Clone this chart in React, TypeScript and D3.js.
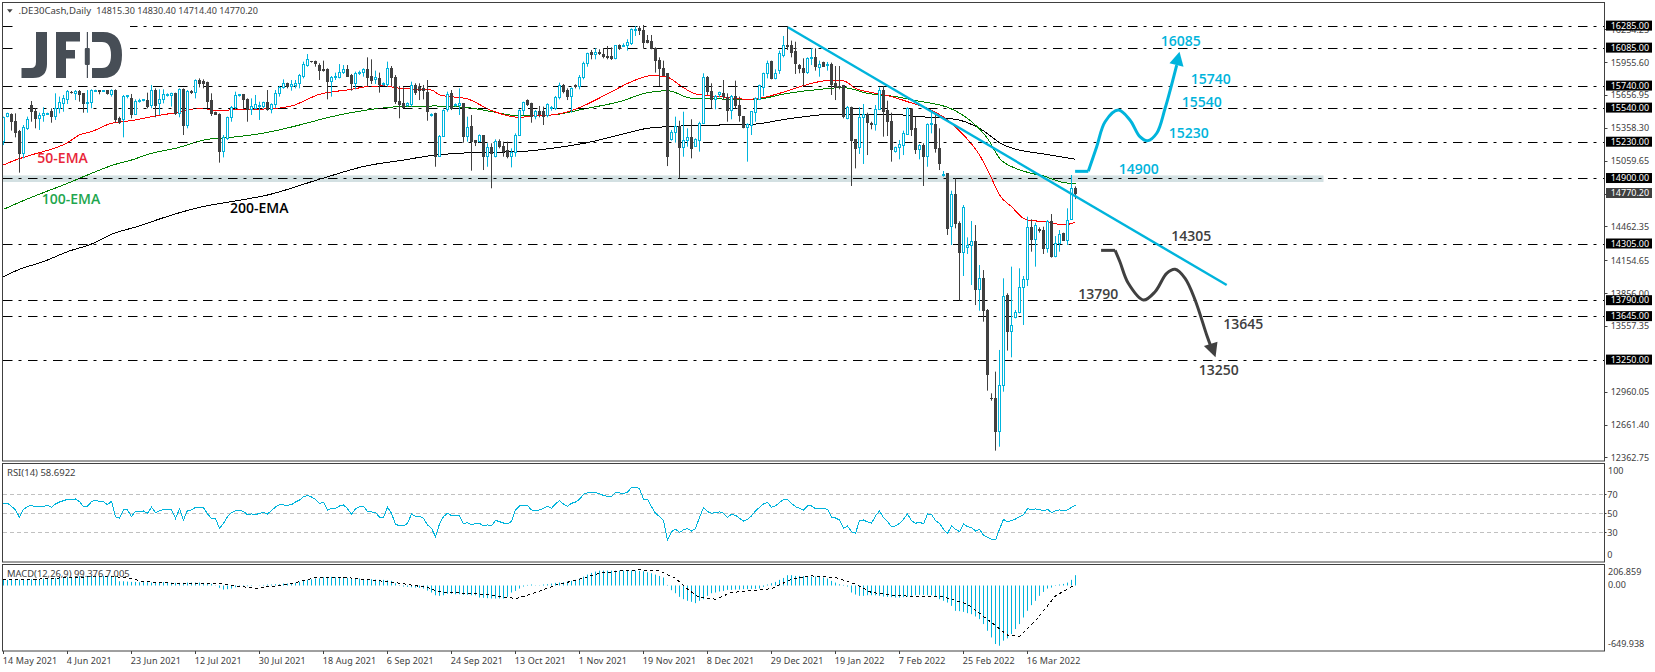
import * as d3 from "d3";

const opens = [
  15237,15464,15479,15418,15328,15125,15358,15567,15509,15443,
  15476,15491,15509,15464,15540,15585,15624,15685,15673,15697,
  15670,15582,15591,15700,15700,15700,15700,15661,15706,15449,
  15434,15646,15630,15485,15600,15609,15615,15561,15706,15579,
  15624,15661,15658,15676,15494,15715,15388,15697,15682,15788,
  15779,15773,15615,15500,15488,15146,15267,15458,15549,15655,
  15667,15624,15531,15540,15555,15555,15591,15531,15570,15670,
  15727,15767,15736,15743,15767,15833,15933,15967,15964,15933,
  15894,15894,15782,15821,15821,15864,15888,15839,15761,15852,
  15864,15894,15827,15806,15812,15752,15752,15903,15821,15600,
  15579,15561,15570,15743,15730,15721,15682,15470,15494,15106,
  15288,15530,15676,15564,15561,15579,15282,15373,15246,15237,
  15297,15100,15185,15100,15237,15197,15155,15100,15137,15297,
  15518,15615,15585,15464,15509,15509,15470,15534,15540,15640,
  15749,15700,15646,15749,15736,15821,15949,16045,16030,16051,
  16030,16015,16015,15994,16106,16106,16115,16130,16245,16263,
  16251,16160,16148,16085,15973,15906,15852,15252,15318,15379,
  15185,15246,15276,15197,15246,15403,15821,15691,15621,15661,
  15676,15636,15518,15646,15561,15464,15367,15388,15500,15621,
  15730,15852,15961,15812,15882,16024,16115,16106,16055,15930,
  15903,15864,15991,16003,15909,15958,15930,15942,15761,15736,
  15743,15446,15549,15252,15182,15458,15488,15403,15391,15531,
  15706,15518,15421,15146,15185,15206,15306,15531,15358,15161,
  15206,15106,15391,15397,15176,14928,14943,14464,14761,14495,
  14228,14277,14295,14331,13889,13995,13707,12907,12904,12602,
  13023,13843,13510,13640,13683,13913,13986,14458,14349,14440,
  14434,14270,14513,14192,14313,14398,14343,14525,14815.3,
];
const highs = [
  15464,15500,15494,15494,15343,15388,15464,15606,15540,15500,
  15549,15500,15540,15676,15646,15661,15706,15697,15706,15706,
  15676,15706,15712,15709,15700,15706,15706,15712,15712,15464,
  15661,15661,15670,15621,15627,15624,15682,15752,15721,15712,
  15712,15676,15682,15682,15721,15721,15706,15706,15803,15812,
  15803,15782,15676,15509,15494,15297,15464,15561,15691,15670,
  15670,15630,15630,15661,15600,15600,15706,15585,15706,15743,
  15803,15773,15797,15797,15852,15964,16033,15970,15973,15949,
  15973,15903,15833,15864,15942,15933,15933,15852,15873,15882,
  15903,16003,15985,15882,15864,15776,15964,15924,15842,15743,
  15730,15594,15782,15767,15767,15752,15797,15494,15500,15297,
  15530,15691,15706,15585,15721,15585,15464,15479,15252,15303,
  15297,15222,15222,15258,15258,15237,15237,15176,15312,15530,
  15600,15621,15591,15524,15561,15555,15585,15561,15652,15773,
  15761,15721,15730,15758,15842,15964,16045,16070,16085,16076,
  16085,16106,16094,16115,16121,16130,16167,16266,16288,16288,
  16297,16206,16206,16094,16003,15973,15858,15343,15464,15427,
  15509,15358,15440,15267,15418,15858,15833,15767,15661,15691,
  15797,15676,15661,15791,15646,15470,15403,15515,15640,15755,
  15864,15973,15973,15894,16064,16197,16288,16155,16145,15942,
  15994,16003,16085,16085,15973,15964,15961,15955,15924,15924,
  15752,15561,15555,15258,15549,15579,15500,15418,15570,15730,
  15743,15609,15500,15191,15252,15337,15549,15540,15464,15215,
  15222,15403,15524,15479,15358,14970,14943,14791,14903,14513,
  14661,14367,14516,14479,14116,14070,13716,12950,13147,13344,
  13995,13859,14101,13707,14086,14016,14555,14531,14500,14458,
  14464,14525,14579,14379,14434,14410,14631,14934,14830.4,
];
const lows = [
  15206,15458,15337,15276,14955,15085,15343,15418,15358,15343,
  15418,15488,15409,15434,15494,15509,15579,15673,15615,15600,
  15500,15500,15540,15697,15667,15694,15664,15646,15409,15397,
  15276,15630,15449,15479,15591,15603,15540,15540,15458,15479,
  15585,15646,15555,15479,15458,15297,15358,15670,15630,15730,
  15721,15540,15470,15479,15046,15094,15252,15418,15531,15646,
  15531,15418,15479,15531,15434,15540,15518,15494,15540,15646,
  15718,15721,15700,15721,15721,15812,15918,15955,15918,15797,
  15873,15621,15646,15797,15812,15852,15827,15700,15712,15842,
  15827,15743,15761,15761,15682,15743,15737,15743,15579,15449,
  15549,15555,15555,15661,15615,15621,15427,15464,15009,15100,
  15282,15509,15524,15555,15479,15228,15237,14973,15197,15231,
  14979,15009,14813,15094,15176,15100,15085,15003,15100,15288,
  15479,15561,15409,15440,15458,15388,15458,15518,15524,15621,
  15676,15615,15500,15721,15712,15803,15918,15985,15985,16024,
  15994,15985,15979,15985,16070,16100,16064,16115,16197,16206,
  16085,16130,16076,15864,15743,15833,15015,15246,15228,14903,
  15100,15191,15085,15191,15146,15397,15661,15540,15531,15640,
  15615,15418,15440,15540,15418,15358,15055,15297,15418,15615,
  15652,15812,15803,15803,15852,16003,16070,16003,15852,15858,
  15743,15852,15933,15882,15827,15918,15882,15661,15615,15712,
  15449,15440,14834,14994,15125,15034,15115,15349,15337,15524,
  15282,15288,15055,15137,15076,15115,15297,15288,15125,15076,
  14834,15009,15312,15137,14979,14919,14389,14298,14449,13792,
  14016,14216,13934,13752,13701,13601,12974,12883,12429,12465,
  12965,13338,13277,13631,13677,13571,13925,14237,14101,14410,
  14216,14228,14183,14186,14237,14343,14298,14525,14714.4,
];
const closes = [
  15458,15494,15418,15318,15125,15367,15434,15509,15443,15470,
  15494,15497,15464,15540,15597,15630,15697,15679,15697,15661,
  15585,15591,15700,15703,15697,15703,15670,15706,15434,15409,
  15646,15655,15479,15606,15615,15618,15555,15706,15561,15624,
  15667,15667,15673,15494,15715,15388,15691,15679,15788,15767,
  15767,15606,15494,15485,15146,15276,15458,15549,15658,15664,
  15621,15531,15555,15570,15567,15591,15531,15570,15676,15730,
  15767,15736,15758,15767,15842,15942,15985,15961,15949,15882,
  15882,15782,15821,15833,15864,15888,15833,15767,15852,15864,
  15888,15821,15797,15818,15752,15767,15903,15821,15600,15570,
  15549,15585,15743,15682,15706,15700,15509,15488,15106,15288,
  15524,15661,15540,15576,15579,15282,15367,15237,15228,15297,
  15100,15185,15125,15237,15197,15146,15100,15137,15297,15524,
  15591,15570,15464,15509,15488,15464,15570,15546,15640,15749,
  15691,15646,15721,15736,15821,15949,16039,16030,16051,16039,
  16009,16003,15994,16106,16085,16115,16136,16257,16260,16245,
  16136,16142,16082,15973,15903,15842,15106,15318,15379,15182,
  15246,15276,15176,15252,15403,15821,15691,15621,15646,15682,
  15646,15518,15646,15561,15470,15367,15397,15509,15630,15749,
  15858,15949,15812,15852,16039,16115,16100,16045,15949,15903,
  15864,15994,16003,15918,15942,15924,15942,15752,15730,15730,
  15464,15549,15246,15176,15458,15479,15415,15391,15531,15706,
  15509,15418,15161,15185,15215,15312,15540,15349,15167,15206,
  15106,15397,15403,15176,15040,14940,14452,14761,14489,14228,
  14640,14295,14331,13889,13995,13701,13119,12901,12602,13025,
  13834,13510,13562,13683,13913,13986,14458,14349,14476,14428,
  14270,14513,14192,14313,14392,14343,14519,14813,14770.2,
];

const ema50Bars = [0,3,7,16,19,22,27,32,38,43,49,54,59,66,72,79,87,91,95,99,107,109,116,122,129,133,137,142,146,152,158,162,166,169,173,179,186,189,194,200,206,210,213,218,222,226,231,236,240,244,247,249,252,255,257,261,264,266,268];
const ema50 = [15025,15070,15116,15228,15298,15328,15404,15428,15470,15500,15540,15519,15531,15534,15561,15667,15712,15737,15743,15722,15706,15661,15625,15519,15458,15473,15479,15519,15579,15691,15797,15837,15822,15752,15670,15646,15622,15631,15676,15746,15791,15788,15722,15676,15646,15600,15540,15434,15298,15116,14904,14752,14646,14540,14519,14510,14486,14486,14507];
const ema100Bars = [0,4,10,16,20,28,32,37,43,51,57,67,74,82,91,99,108,116,122,129,137,146,154,161,166,172,179,187,196,204,210,216,223,228,232,236,242,246,249,253,257,260,264,268];
const ema100 = [14622,14686,14774,14858,14919,15031,15070,15131,15176,15258,15276,15328,15388,15464,15525,15555,15561,15546,15510,15470,15479,15540,15600,15682,15700,15631,15625,15616,15676,15712,15728,15676,15646,15610,15585,15549,15419,15267,15086,14995,14949,14925,14874,14852];
const ema200Bars = [0,4,10,16,22,27,34,40,49,58,66,79,91,99,107,117,129,137,146,154,161,166,179,187,196,204,210,221,229,238,244,250,256,259,268];
const ema200 = [14010,14077,14147,14237,14307,14395,14471,14546,14640,14698,14752,14895,15019,15064,15110,15137,15146,15176,15228,15298,15358,15373,15388,15394,15443,15479,15488,15488,15464,15440,15358,15207,15146,15131,15076];

const rsi = [
  59.8,60.5,57.4,53.5,45.8,54.2,57,58.4,56.7,57.4,
  57.4,58.4,56.3,59.8,61.9,63.3,64.7,64,65.1,62.3,
  57,57.4,62.3,63.7,62.6,62.3,59.1,62.6,46.5,44.7,
  53.5,53.5,46.5,52.1,52.1,52.5,50,56.3,50.7,52.5,
  53.9,54.2,53.5,44.7,54.6,43,53.2,53.5,56.3,56.3,
  56,49.3,44.7,44.7,33.9,39.5,46.5,50.7,52.8,53.2,
  51.8,48.6,49.3,48.9,49.6,51.1,49.3,52.8,56.7,59.1,
  58.8,58.4,59.1,61.9,64,67.5,68.6,67.2,64.7,60.5,
  61.6,53.2,55.3,55.3,57.7,58.8,54.9,48.9,54.9,56.7,
  57.4,51.8,51.4,50.7,46.1,45.4,56.3,50,38.4,37,
  36.7,39.5,49.3,46.8,46.8,44.7,37.7,34.2,25.4,38.8,
  46.5,50,47.5,47.9,47.2,38.8,40.2,38.1,39.1,39.5,
  36.7,37.7,36.7,42.6,41.2,39.8,38.8,41.6,53.5,57.7,
  57.7,58.1,53.5,53.2,53.5,55.3,57.4,55.3,59.8,63.3,
  59.8,57.4,60.5,61.9,64.7,70,71.4,71.8,71.8,70.4,
  68.9,67.9,67.9,71.8,71.4,71,72.1,77.4,77.4,76,
  64.7,64.7,57,50,46.5,42.3,21.9,30.7,33.2,30,
  32.5,33.9,31.4,33.9,45.8,56,51.8,50,50.7,51.4,
  50,45.8,48.9,47.9,44.7,41.9,43.7,47.2,52.5,56.3,
  59.8,61.6,56.3,57.7,61.2,64.7,64.3,60.5,57,55.3,
  53.5,57.9,57.7,54.9,54.9,54.9,54.2,45.8,45.1,43,
  34.2,36.7,30.7,28.9,42.3,43,40.9,39.5,47.2,52.5,
  45.4,41.2,36,36.7,39.5,43.7,49.3,42.3,39.5,40.7,
  38.8,49.3,48.9,42.3,39.5,33.2,28.9,36.7,33.2,30.7,
  38.8,36,35,31.4,33.2,26.8,24.7,22.6,21.9,33.2,
  43.7,40.9,42.3,44,46.5,48.6,54.9,53.5,54.6,54.2,
  52.5,54.2,50.7,52.5,53.5,53.2,53.5,56.3,58.69,
];

const macdHist = [
  53,53,53,56,56,59,59,59,62,62,66,69,69,72,72,76,79,82,85,89,89,92,92,95,95,92,92,92,89,
  39,39,36,33,33,30,30,30,26,26,30,30,26,26,23,23,23,26,26,26,26,23,20,13,0,
  -26,-43,-39,-33,-20,-13,-10,-10,-7,-3,0,3,7,7,10,10,16,16,20,23,
  33,43,53,59,66,69,79,82,82,79,76,76,72,69,66,66,62,62,59,56,53,53,49,43,20,
  -7,-13,-16,-20,-23,-26,-33,-53,-72,-99,-105,-99,-85,-85,-89,-89,-95,-95,-99,-99,
  -122,-125,-128,-131,-131,-131,-131,-115,-72,-56,-33,-13,3,7,0,0,
  7,10,16,23,26,30,36,43,53,66,85,105,122,135,144,
  144,144,144,144,144,144,144,144,144,141,138,128,118,105,92,76,3,
  -49,-79,-115,-138,-154,-164,-177,-154,-138,-105,-79,-72,-62,-56,
  -46,-46,-43,-43,-39,-39,-36,-36,-33,-16,7,
  20,33,53,72,99,99,92,92,89,89,85,85,82,76,66,43,26,10,3,-13,
  -72,-92,-105,-105,-99,-99,-99,-105,-112,-115,-118,-122,-122,-118,-112,-105,-99,
  -95,-95,-99,-99,-115,-138,-154,-171,-204,-253,-256,-263,-276,-286,-309,
  -335,-384,-450,-516,-581,-598,-548,-525,-483,-433,-384,-319,-253,-197,-154,
  -105,-66,-33,-23,-7,7,13,26,53,99.376,
];
const signalBars = [0,8,16,27,32,35,42,54,58,63,68,73,78,85,94,99,106,109,120,128,129,133,138,144,149,155,159,164,168,171,174,178,182,189,192,197,202,208,213,217,224,235,241,247,251,254,258,263,268];
const signalValues = [53,59,76,89,66,36,20,16,-7,-30,-7,26,76,79,43,20,-23,-66,-89,-131,-122,-72,0,59,118,144,151,141,69,-39,-122,-138,-72,-46,-33,59,92,76,10,-72,-105,-115,-187,-368,-493,-506,-351,-105,7.005];

const dateBars = [0,16,32,48,64,80,96,112,128,144,160,176,192,208,224,240,256];
const dateLabels = ["14 May 2021","4 Jun 2021","23 Jun 2021","12 Jul 2021","30 Jul 2021","18 Aug 2021","6 Sep 2021","24 Sep 2021","13 Oct 2021","1 Nov 2021","19 Nov 2021","8 Dec 2021","29 Dec 2021","19 Jan 2022","7 Feb 2022","25 Feb 2022","16 Mar 2022"];

const priceTicks = [16254.25,15955.6,15656.95,15358.3,15059.65,14761,14462.35,14154.65,13856,13557.35,12960.05,12661.4,12362.75];
const levels = [16285,16085,15740,15540,15230,14900,14305,13790,13645,13250];
const rsiTicks = [100,70,50,30,0];
const rsiLevels = [70,50,30];
const macdTicks = [206.859,0,-649.938];
const lastClose = 14770.2;

const zoneBand = [14870,14930];
const zoneEndBar = 330;

const trendBars = [196.1,305.8];
const trendPrices = [16276,13934];

const upFlatBars = [267.9,271.2];
const upFlatPrices = [14967,14967];
const upBars = [271.2,273.3,275.4,278.7,281.6,284.1,286,288.3,290.4,293.3];
const upPrices = [14967,15191,15418,15524,15434,15282,15245,15313,15540,15933];
const upHeadBars = [294,291.5,295];
const upHeadPrices = [16054,15949,15918];

const downFlatBars = [274.4,277.9];
const downFlatPrices = [14249,14249];
const downBars = [277.9,279.1,281.2,285,287.9,290.8,292.9,295.4,297.9,300.8,301.8];
const downPrices = [14249,14146,13950,13798,13873,14040,14077,13995,13798,13480,13380];
const downHeadBars = [303,300.1,303.5];
const downHeadPrices = [13277,13380,13419];

const BLUE = "#00b4dc";
const DARK = "#404040";
const FONT = "'Noto Sans', sans-serif";
const ANNO = "'Open Sans', sans-serif";

const x = d3.scaleLinear().domain([0, 268]).range([3.5, 1075.5]);
const y = d3.scaleLinear().domain([13250, 16285]).range([360.3, 26.3]);
const yRsi = d3.scaleLinear().domain([0, 100]).range([560.8, 465.8]);
const yMacd = d3.scaleLinear().domain([-649.938, 206.859]).range([651, 564.3]);

const snap = (v: number) => Math.round(v - 0.5) + 0.5;

const series = (bars: number[], vals: number[], scale: (v: number) => number, curve: d3.CurveFactory = d3.curveLinear) =>
  d3.line<number>().x((b) => x(b)).y((_, i) => scale(vals[i])).curve(curve)(bars) ?? "";

const clampLabel = (v: number, top: number, bottom: number) => Math.min(Math.max(v, top + 7), bottom - 7);

const panels = [
  { top: 2.5, bottom: 461 },
  { top: 463.5, bottom: 562 },
  { top: 564.5, bottom: 651 },
];
const right = 1604.5;

const annotations = [
  { t: "16085", x: 1160.7, y: 45.7, c: BLUE },
  { t: "15740", x: 1190.7, y: 83.7, c: BLUE },
  { t: "15540", x: 1181.7, y: 106.7, c: BLUE },
  { t: "15230", x: 1168.7, y: 137.7, c: BLUE },
  { t: "14900", x: 1118.7, y: 174.3, c: BLUE },
  { t: "14305", x: 1171.3, y: 240.7, c: DARK },
  { t: "13790", x: 1078.3, y: 298.7, c: DARK },
  { t: "13645", x: 1223.3, y: 329, c: DARK },
  { t: "13250", x: 1198.7, y: 374.7, c: DARK },
  { t: "50-EMA", x: 37.3, y: 163.3, c: "#e8263a" },
  { t: "100-EMA", x: 41.7, y: 204, c: "#1ea64e" },
  { t: "200-EMA", x: 230, y: 212.7, c: "#000000" },
];

function Candles() {
  return (
    <g>
      {opens.map((o, i) => {
        const c = closes[i];
        const up = c >= o;
        const cx = x(i);
        const top = snap(y(Math.max(o, c)));
        const bot = snap(y(Math.min(o, c)));
        const col = up ? BLUE : DARK;
        return (
          <g key={i}>
            <line x1={cx} x2={cx} y1={y(highs[i])} y2={y(lows[i])} stroke={col} strokeWidth={1} />
            {up ? (
              <rect x={cx - 1} y={top} width={2} height={Math.max(bot - top, 1)} fill="#fff" stroke={col} strokeWidth={1} />
            ) : (
              <rect x={cx - 1.5} y={top - 0.5} width={3} height={Math.max(bot - top + 1, 1)} fill={col} />
            )}
          </g>
        );
      })}
    </g>
  );
}

function Logo() {
  return (
    <g fill="#474e56">
      <rect x={13} y={20} width={117} height={60} fill="#fff" />
      <path d="M36 32H47V64Q47 78 33 78H21.5V68H31Q36 68 36 62Z" />
      <path d="M56 32H80V41.5H66V50H75V58.5H66V78H56Z" />
      <rect x={86.8} y={32} width={1.2} height={46} />
      <rect x={84.8} y={48} width={5} height={17} rx={1} />
      <path d="M92 32H103Q122 32 122 55Q122 78 103 78H92V68H102Q111 68 111 55Q111 42 102 42H92Z" />
    </g>
  );
}

export default function App() {
  const smallText = { fontFamily: FONT, fontSize: 9, fill: DARK };
  return (
    <svg
      width={1655}
      height={672}
      viewBox="0 0 1655 672"
      style={{ position: "absolute", left: 0, top: 0, background: "#fff" }}
    >
      <rect
        x={2.5}
        y={y(zoneBand[1])}
        width={x(zoneEndBar) - 2.5}
        height={y(zoneBand[0]) - y(zoneBand[1])}
        fill="#d3e0e2"
      />
      <g shapeRendering="crispEdges" fill="none" strokeWidth={1}>
        <path d={series(ema200Bars, ema200, y, d3.curveMonotoneX)} stroke="#000" />
        <path d={series(ema100Bars, ema100, y, d3.curveMonotoneX)} stroke="#008000" />
        <path d={series(ema50Bars, ema50, y, d3.curveMonotoneX)} stroke="#ff0000" />
      </g>

      {levels.map((l) => (
        <line
          key={l}
          x1={3}
          x2={right}
          y1={snap(y(l))}
          y2={snap(y(l))}
          stroke="#000"
          strokeWidth={1.2}
          strokeDasharray="9.5 6 3 6.5"
        />
      ))}

      <Logo />
      <Candles />

      <path d={series(trendBars, trendPrices, y)} fill="none" stroke={BLUE} strokeWidth={2.4} />

      <path d={series(upFlatBars, upFlatPrices, y)} fill="none" stroke={BLUE} strokeWidth={3} />
      <path d={series(upBars, upPrices, y, d3.curveCatmullRom)} fill="none" stroke={BLUE} strokeWidth={3} />
      <path d={series(upHeadBars, upHeadPrices, y) + "Z"} fill={BLUE} />

      <path d={series(downFlatBars, downFlatPrices, y)} fill="none" stroke={DARK} strokeWidth={3} />
      <path d={series(downBars, downPrices, y, d3.curveCatmullRom)} fill="none" stroke={DARK} strokeWidth={3} />
      <path d={series(downHeadBars, downHeadPrices, y) + "Z"} fill={DARK} />

      {annotations.map((a) => (
        <text key={a.t} x={a.x} y={a.y} fill={a.c} fontFamily={ANNO} fontWeight={600} fontSize={14}>
          {a.t}
        </text>
      ))}

      {rsiLevels.map((l) => (
        <line key={l} x1={3} x2={right} y1={snap(yRsi(l))} y2={snap(yRsi(l))} stroke="#c0c0c0" strokeDasharray="4 3" />
      ))}
      <path
        d={d3.line<number>().x((_, i) => x(i)).y((v) => yRsi(v))(rsi) ?? ""}
        fill="none"
        stroke={BLUE}
        strokeWidth={1}
        shapeRendering="crispEdges"
      />

      {macdHist.map((v, i) => (
        <line key={i} x1={x(i)} x2={x(i)} y1={snap(yMacd(0))} y2={yMacd(v)} stroke={BLUE} strokeWidth={1} />
      ))}
      <path
        d={series(signalBars, signalValues, yMacd)}
        fill="none"
        stroke="#000"
        strokeWidth={1}
        strokeDasharray="3 3"
        shapeRendering="crispEdges"
      />

      {panels.map((p) => (
        <rect
          key={p.top}
          x={2.5}
          y={p.top}
          width={right - 2.5}
          height={p.bottom - p.top}
          fill="none"
          stroke={DARK}
          strokeWidth={1}
        />
      ))}

      <path d="M7 9.3H12.6L9.8 12.8Z" fill={DARK} />
      <text x={18.5} y={14} {...smallText} fontSize={9.6}>
        .DE30Cash,Daily
      </text>
      <text x={96.3} y={14} {...smallText} fontSize={9.05}>
        14815.30 14830.40 14714.40 14770.20
      </text>
      <text x={7} y={476} {...smallText} fontSize={9.5}>
        RSI(14) 58.6922
      </text>
      <text x={7} y={577} {...smallText} fontSize={9.4}>
        MACD(12,26,9) 99.376 7.005
      </text>

      {priceTicks.map((t) => (
        <g key={t}>
          <line x1={right} x2={right + 3} y1={snap(y(t))} y2={snap(y(t))} stroke={DARK} />
          <text x={1610.7} y={y(t) + 3} {...smallText}>
            {t.toFixed(2)}
          </text>
        </g>
      ))}
      {levels.map((l) => (
        <g key={l}>
          <rect x={1606} y={y(l) - 5.7} width={46} height={10} fill="#000" />
          <text x={1610.7} y={y(l) + 2.6} {...smallText} fill="#fff">
            {l.toFixed(2)}
          </text>
        </g>
      ))}
      <rect x={1606} y={y(lastClose) - 5} width={46} height={10} fill={DARK} />
      <text x={1610.7} y={y(lastClose) + 3.2} {...smallText} fill="#fff">
        {lastClose.toFixed(2)}
      </text>

      {rsiTicks.map((t) => (
        <text key={t} x={t === 100 ? 1608 : 1607.3} y={clampLabel(yRsi(t), 463.5, 562) + 3.2} {...smallText}>
          {t}
        </text>
      ))}
      {rsiLevels.map((t) => (
        <line key={t} x1={right} x2={right + 2} y1={snap(yRsi(t))} y2={snap(yRsi(t))} stroke={DARK} />
      ))}
      {macdTicks.map((t) => (
        <text key={t} x={1608} y={clampLabel(yMacd(t), 564.5, 651) + 3.2} {...smallText}>
          {t === 0 ? "0.00" : t}
        </text>
      ))}

      {dateBars.map((b, i) => (
        <g key={b}>
          <line x1={x(b)} x2={x(b)} y1={651} y2={654} stroke={DARK} />
          <text x={x(b) - 0.7} y={664} {...smallText} letterSpacing={0.1}>
            {dateLabels[i]}
          </text>
        </g>
      ))}
    </svg>
  );
}
